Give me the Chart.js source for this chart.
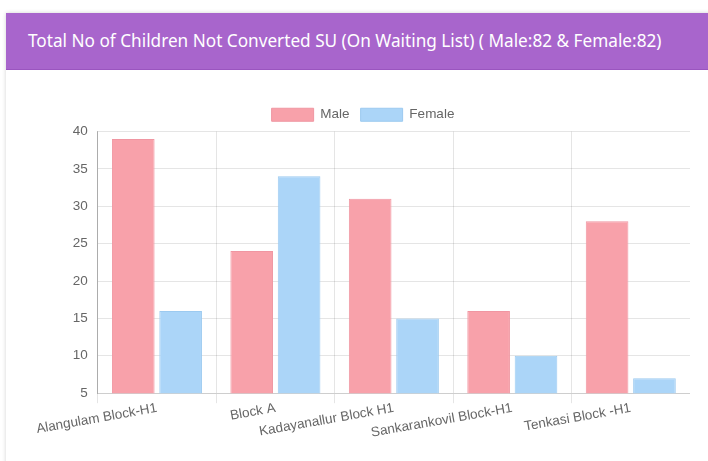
<!DOCTYPE html>
<html lang="en">
<head>
<meta charset="utf-8"/>
<title>Children Not Converted SU</title>
<script src="https://cdn.jsdelivr.net/npm/chart.js"></script>
<style>
    body {
      margin: 0;
      background: #fff;
      width: 708px;
      height: 461px;
      overflow: hidden;
    }
    .card {
      position: absolute;
      left: 6px;
      top: 13px;
      width: 720px;
      height: 470px;
      background: #fff;
      box-shadow: 0 0 4px rgba(0,0,0,0.18);
    }
    .card-header {
      height: 56px;
      background: #a865cc;
      border-bottom: 1px solid #9a55bf;
      color: #fff;
      font-family: "Noto Sans", sans-serif;
      font-size: 17.2px;
      line-height: 56px;
      padding-left: 22px;
      white-space: nowrap;
    }
    .chart-box {
      position: absolute;
      left: 30px;
      top: 84px;
      width: 654px;
      height: 341px;
    }
  </style>
</head>
<body>
<div class="card">
  <div class="card-header">Total No of Children Not Converted SU (On Waiting List) ( Male:82 &amp; Female:82)</div>
  <div class="chart-box"><canvas id="chart"></canvas></div>
</div>
<script>
    const blocks = ["Alangulam Block-H1", "Block A", "Kadayanallur Block H1", "Sankarankovil Block-H1", "Tenkasi Block -H1"];
    const male = [39, 24, 31, 16, 28];
    const female = [16, 34, 15, 10, 7];

    Chart.defaults.font.family = "'Liberation Sans', Arial, sans-serif";
    Chart.defaults.font.size = 13.5;
    Chart.defaults.color = "#666";

    const chart = new Chart(document.getElementById("chart"), {
      type: 'bar',
      data: {
        labels: blocks,
        datasets: [
          {
            label: 'Male',
            data: male,
            backgroundColor: 'rgba(248,161,170,1)',
            borderColor: 'rgba(240,150,162,1)',
            borderWidth: 1
          },
          {
            label: 'Female',
            data: female,
            backgroundColor: 'rgba(171,213,248,1)',
            borderColor: 'rgba(156,202,240,1)',
            borderWidth: 1
          }
        ]
      },
      options: {
        responsive: true,
        maintainAspectRatio: false,
        animation: false,
        plugins: {
          legend: {
            labels: { boxWidth: 42, boxHeight: 13, padding: 11, color: '#666' }
          },
          tooltip: { enabled: false }
        },
        scales: {
          x: {
            grid: { color: 'rgba(0,0,0,0.1)', tickLength: 10, offset: true },
            ticks: { minRotation: 10, maxRotation: 10, padding: -3, color: '#666' }
          },
          y: {
            min: 5,
            max: 40,
            grid: { color: 'rgba(0,0,0,0.1)', drawTicks: false },
            border: { color: 'rgba(0,0,0,0.25)' },
            ticks: { stepSize: 5, padding: 10, color: '#666' }
          }
        }
      }
    });
</script>
</body>
</html>
